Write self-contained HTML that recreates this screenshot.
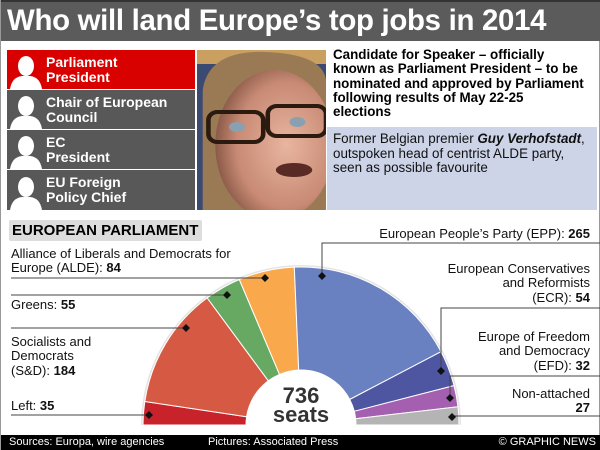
<!DOCTYPE html>
<html><head><meta charset="utf-8"><style>
*{margin:0;padding:0;box-sizing:border-box}
body{width:600px;height:450px;overflow:hidden;background:#fff;font-family:"Liberation Sans",Arial,sans-serif;position:relative;border-left:1px solid #999;border-right:1px solid #999}
.a{position:absolute}
#title{left:0;top:0;width:600px;height:41px;background:#5b5b5b;border-top:2px solid #333;color:#fff;font-weight:bold;font-size:29.4px;line-height:38px;padding-left:6px;letter-spacing:-0.3px;white-space:nowrap}
.row{left:6px;width:188px;height:39px;background:#585858;color:#fff;font-weight:bold;font-size:14px;line-height:15px;padding:5px 0 0 39px;white-space:nowrap}
.row.red{background:#d90000}
.sil{position:absolute;left:2px;bottom:0;width:34px;height:34px}
#cap1{left:332px;top:48px;width:268px;font-weight:bold;font-size:13.4px;line-height:14.3px;color:#000;white-space:nowrap}
#blue{left:326px;top:127px;width:270px;height:83px;background:#cdd4e8;font-size:13.4px;line-height:14.5px;padding:5px 0 0 6px;color:#111;white-space:nowrap}
#ep{left:8px;top:220px;width:193px;height:21px;background:#ddd;font-weight:bold;font-size:15px;line-height:21px;padding-left:3px;border-radius:2px;white-space:nowrap}
.t{position:absolute;font-size:13px;line-height:14.3px;color:#111;white-space:nowrap}
.r{text-align:right}
#foot{left:0;top:435px;width:600px;height:15px;background:#000;color:#fff;font-size:11px;line-height:15px}
</style></head><body>
<div id="title" class="a">Who will land Europe’s top jobs in 2014</div>

<div class="a row red" style="top:50px">Parliament<br>President<svg class="sil" viewBox="0 0 32 34"><ellipse cx="16" cy="11" rx="8" ry="10" fill="#fff"/><path d="M0 34 Q2 22 12 21 L20 21 Q30 22 32 34Z" fill="#fff"/></svg></div>
<div class="a row" style="top:90px">Chair of European<br>Council<svg class="sil" viewBox="0 0 32 34"><ellipse cx="16" cy="11" rx="8" ry="10" fill="#fff"/><path d="M0 34 Q2 22 12 21 L20 21 Q30 22 32 34Z" fill="#fff"/></svg></div>
<div class="a row" style="top:130px">EC<br>President<svg class="sil" viewBox="0 0 32 34"><ellipse cx="16" cy="11" rx="8" ry="10" fill="#fff"/><path d="M0 34 Q2 22 12 21 L20 21 Q30 22 32 34Z" fill="#fff"/></svg></div>
<div class="a row" style="top:170px;height:40px">EU Foreign<br>Policy Chief<svg class="sil" viewBox="0 0 32 34"><ellipse cx="16" cy="11" rx="8" ry="10" fill="#fff"/><path d="M0 34 Q2 22 12 21 L20 21 Q30 22 32 34Z" fill="#fff"/></svg></div>

<svg class="a" style="left:196px;top:50px" width="129" height="160" viewBox="0 0 113 160" preserveAspectRatio="none">
<defs><radialGradient id="sk" cx="0.6" cy="0.5" r="0.6"><stop offset="0" stop-color="#e8b5a0"/><stop offset="0.7" stop-color="#c88a74"/><stop offset="1" stop-color="#8a5a48"/></radialGradient></defs>
<rect width="113" height="160" fill="#3a4a70"/>
<rect width="113" height="14" fill="#c9a060"/>
<path d="M5 160 L5 40 Q10 0 60 2 Q110 4 113 30 L113 160Z" fill="#9a7a55"/>
<ellipse cx="68" cy="95" rx="52" ry="75" fill="url(#sk)"/>
<rect x="10" y="62" width="48" height="30" rx="8" fill="none" stroke="#2a1a10" stroke-width="4"/>
<rect x="62" y="56" width="51" height="30" rx="8" fill="none" stroke="#2a1a10" stroke-width="4"/>
<ellipse cx="35" cy="77" rx="7" ry="5" fill="#8aa0b0"/><ellipse cx="88" cy="72" rx="7" ry="5" fill="#8aa0b0"/>
<ellipse cx="85" cy="120" rx="16" ry="7" fill="#5a2a25"/>
</svg>

<div id="cap1" class="a">Candidate for Speaker – officially<br>known as Parliament President – to be<br>nominated and approved by Parliament<br>following results of May 22-25<br>elections</div>
<div id="blue" class="a">Former Belgian premier <b><i>Guy Verhofstadt</i></b>,<br>outspoken head of centrist ALDE party,<br>seen as possible favourite</div>

<div id="ep" class="a">EUROPEAN PARLIAMENT</div>

<svg id="ch" class="a" style="left:0;top:0" width="600" height="450"></svg>

<div class="t" style="left:10px;top:247px">Alliance of Liberals and Democrats for<br>Europe (ALDE): <b>84</b></div>
<div class="t" style="left:10px;top:298px">Greens: <b>55</b></div>
<div class="t" style="left:10px;top:335px">Socialists and<br>Democrats<br>(S&amp;D): <b>184</b></div>
<div class="t" style="left:10px;top:399px">Left: <b>35</b></div>
<div class="t r" style="right:9px;top:227px">European People’s Party (EPP): <b>265</b></div>
<div class="t r" style="right:9px;top:262px">European Conservatives<br>and Reformists<br>(ECR): <b>54</b></div>
<div class="t r" style="right:9px;top:330px">Europe of Freedom<br>and Democracy<br>(EFD): <b>32</b></div>
<div class="t r" style="right:9px;top:387px">Non-attached<br><b>27</b></div>

<div class="a" style="left:250px;top:386px;width:100px;text-align:center;font-weight:bold;font-size:22px;line-height:19px;color:#333">736<br>seats</div>

<div id="foot" class="a"><span style="position:absolute;left:8px">Sources: Europa, wire agencies</span><span style="position:absolute;left:207px">Pictures: Associated Press</span><span style="position:absolute;right:5px">© GRAPHIC NEWS</span></div>

<script>
var s=document.getElementById('ch'),cx=300,cy=425,RX=158,RY=158,rx=55,ry=55;
var d=[[35,'#c8232b'],[184,'#d65a43'],[55,'#67a862'],[84,'#f9a94c'],[265,'#6a81c1'],[54,'#4f56a1'],[32,'#a45fb1'],[27,'#b4b4b4']];
function P(a,X,Y){return (cx+X*Math.cos(a)).toFixed(1)+' '+(cy-Y*Math.sin(a)).toFixed(1)}
var h='',acc=0;
h+='<path d="M'+P(Math.PI,RX+2,RY+2)+' A'+(RX+2)+' '+(RY+2)+' 0 0 1 '+P(0,RX+2,RY+2)+'Z" fill="#e4e4e4"/>';
d.forEach(function(e){var a1=Math.PI*(1-acc/736);acc+=e[0];var a2=Math.PI*(1-acc/736);
h+='<path d="M'+P(a1,rx,ry)+' L'+P(a1,RX,RY)+' A'+RX+' '+RY+' 0 0 1 '+P(a2,RX,RY)+' L'+P(a2,rx,ry)+' A'+rx+' '+ry+' 0 0 0 '+P(a1,rx,ry)+'Z" fill="'+e[1]+'" stroke="#fff" stroke-width="1"/>';});
h+='<path d="M'+P(Math.PI,rx,ry)+' A'+rx+' '+ry+' 0 0 1 '+P(0,rx,ry)+'Z" fill="#fff"/>';
var L=[[10,278,264,278],[10,295,226,295],[10,328,185,328],[10,415,148,415]];
L.forEach(function(l){h+='<line x1="'+l[0]+'" y1="'+l[1]+'" x2="'+l[2]+'" y2="'+l[3]+'" stroke="#444" stroke-width="1"/>';dm(l[2],l[3]);});
var R=[[321,243,321,276],[440,308,440,371],[449,376,449,398],[451,416,451,417]];
R.forEach(function(l){h+='<polyline points="600,'+l[1]+' '+l[0]+','+l[1]+' '+l[2]+','+l[3]+'" fill="none" stroke="#444" stroke-width="1"/>';dm(l[2],l[3]);});
function dm(x,y){h+='<path d="M'+x+' '+(y-4)+' L'+(x+4)+' '+y+' L'+x+' '+(y+4)+' L'+(x-4)+' '+y+'Z" fill="#111"/>';}
s.innerHTML=h;
</script>
</body></html>
